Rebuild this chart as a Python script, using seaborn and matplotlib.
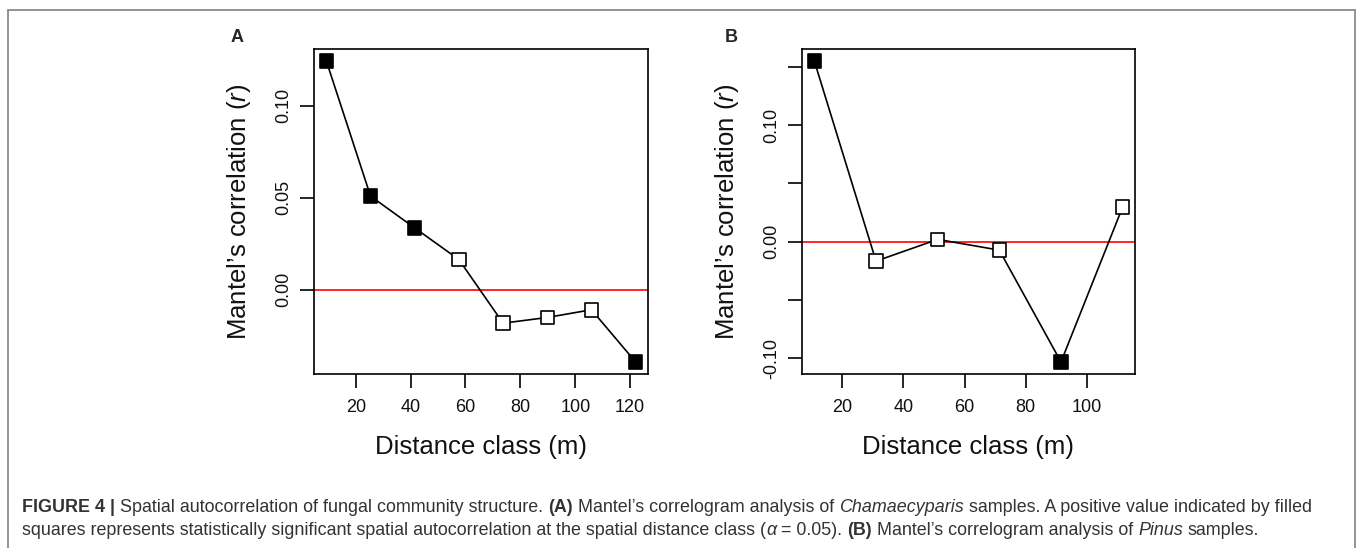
import matplotlib
matplotlib.use("Agg")
import matplotlib.pyplot as plt
import seaborn as sns
import pandas as pd
from matplotlib.lines import Line2D

# ---------------- data ----------------
dist_a = [9.3, 25.4, 41.5, 57.6, 73.7, 89.8, 105.9, 122.0]
r_a = [0.1244, 0.0509, 0.0336, 0.0164, -0.0182, -0.0151, -0.0109, -0.0393]
sig_a = [True, True, True, False, False, False, False, True]

dist_b = [10.8, 31.0, 51.2, 71.4, 91.6, 111.8]
r_b = [0.1548, -0.0166, 0.0020, -0.0072, -0.1030, 0.0298]
sig_b = [True, False, False, False, True, False]

xticks_a = [20, 40, 60, 80, 100, 120]
yticks_a = [0.00, 0.05, 0.10]
ylabels_a = ["0.00", "0.05", "0.10"]
xticks_b = [20, 40, 60, 80, 100]
yticks_b = [-0.10, -0.05, 0.00, 0.05, 0.10, 0.15]
ylabels_b = ["-0.10", "", "0.00", "", "0.10", ""]

xlabel = "Distance class (m)"
panel_letters = ["A", "B"]

# ---------------- style ----------------
sns.set_style("ticks")
plt.rcParams["font.family"] = ["Liberation Sans", "DejaVu Sans"]
plt.rcParams["mathtext.fontset"] = "custom"
plt.rcParams["mathtext.rm"] = "Liberation Sans"
plt.rcParams["mathtext.it"] = "Liberation Sans:italic"

W, H = 1357, 548
fig = plt.figure(figsize=(W / 100, H / 100), dpi=100)


def px_axes(left, right, top, bottom):
    return fig.add_axes([left / W, 1 - bottom / H, (right - left) / W, (bottom - top) / H])


def panel(ax, x, y, sig, xticks, yticks, ylabels):
    df = pd.DataFrame({"x": x, "y": y, "sig": sig})
    ax.axhline(0, color="red", lw=1.2, zorder=1)
    sns.lineplot(data=df, x="x", y="y", color="black", lw=1.2, ax=ax,
                 estimator=None, sort=False, zorder=2)
    sns.scatterplot(data=df, x="x", y="y", hue="sig",
                    palette={True: "black", False: "white"}, marker="s", s=95,
                    edgecolor="black", linewidth=1.2, ax=ax, zorder=3, legend=False)
    xr = max(x) - min(x)
    yr = max(y) - min(y)
    ax.set_xlim(min(x) - 0.04 * xr, max(x) + 0.04 * xr)
    ax.set_ylim(min(y) - 0.04 * yr, max(y) + 0.04 * yr)
    ax.set_xticks(xticks)
    ax.set_xticklabels([str(t) for t in xticks])
    ax.set_yticks(yticks)
    ax.set_yticklabels(ylabels, rotation=90, va="center")
    ax.tick_params(axis="both", direction="out", length=10, width=1.2,
                   labelsize=13, color="black", labelcolor="#111111")
    ax.tick_params(axis="x", pad=8)
    ax.tick_params(axis="y", pad=6)
    for s in ax.spines.values():
        s.set_visible(True)
        s.set_linewidth(1.2)
        s.set_color("black")
    ax.set_xlabel(xlabel, fontsize=18.5, color="#111111")
    ax.set_ylabel("Mantel\u2019s correlation ($\\mathit{r}$)", fontsize=18.5, color="#111111")
    ax.xaxis.label.set_va("center")
    ax.yaxis.label.set_va("center")
    bw = ax.get_position().width * W
    bh = ax.get_position().height * H
    ax.xaxis.set_label_coords(0.5, -73 / bh)
    ax.yaxis.set_label_coords(-75 / bw, 0.5)


ax_a = px_axes(314, 648, 49, 374)
ax_b = px_axes(802, 1135, 49, 374)
panel(ax_a, dist_a, r_a, sig_a, xticks_a, yticks_a, ylabels_a)
panel(ax_b, dist_b, r_b, sig_b, xticks_b, yticks_b, ylabels_b)

fig.text(237 / W, 1 - 37 / H, panel_letters[0], fontsize=13, fontweight="bold",
         ha="center", va="center")
fig.text(731 / W, 1 - 37 / H, panel_letters[1], fontsize=13, fontweight="bold",
         ha="center", va="center")

# ---------------- border ----------------
gray = "#8a8a8a"
fig.add_artist(Line2D([8 / W, 1355 / W], [1 - 10 / H, 1 - 10 / H], color=gray, lw=1.3))
fig.add_artist(Line2D([8 / W, 8 / W], [1 - 10 / H, 0], color=gray, lw=1.3))
fig.add_artist(Line2D([1355 / W, 1355 / W], [1 - 10 / H, 0], color=gray, lw=1.3))

# ---------------- caption ----------------
cap_size = 12.9
cap_color = "#333333"
renderer = fig.canvas.get_renderer()


def text_width(s, style):
    t = fig.text(0, 0, s, fontsize=cap_size,
                 fontweight="bold" if style == "b" else "normal",
                 fontstyle="italic" if style == "i" else "normal")
    w = t.get_window_extent(renderer).width
    t.remove()
    return w


space_w = text_width("a a", "r") - text_width("aa", "r")


def rich_line(x_px, y_px, pieces):
    x = x_px
    for txt, style in pieces:
        lead = len(txt) - len(txt.lstrip(" "))
        trail = len(txt) - len(txt.rstrip(" "))
        core = txt.strip(" ")
        x += lead * space_w
        if core:
            t = fig.text(x / W, 1 - y_px / H, core, fontsize=cap_size, color=cap_color,
                         fontweight="bold" if style == "b" else "normal",
                         fontstyle="italic" if style == "i" else "normal",
                         ha="left", va="baseline")
            x += t.get_window_extent(renderer).width
        x += trail * space_w


rich_line(22, 512, [
    ("FIGURE 4 |", "b"),
    (" Spatial autocorrelation of fungal community structure. ", "r"),
    ("(A)", "b"),
    (" Mantel\u2019s correlogram analysis of ", "r"),
    ("Chamaecyparis", "i"),
    (" samples. A positive value indicated by filled", "r"),
])
rich_line(22, 535, [
    ("squares represents statistically significant spatial autocorrelation at the spatial distance class (", "r"),
    ("\u03b1", "i"),
    (" = 0.05). ", "r"),
    ("(B)", "b"),
    (" Mantel\u2019s correlogram analysis of ", "r"),
    ("Pinus", "i"),
    (" samples.", "r"),
])

fig.savefig("out.png", dpi=100)
